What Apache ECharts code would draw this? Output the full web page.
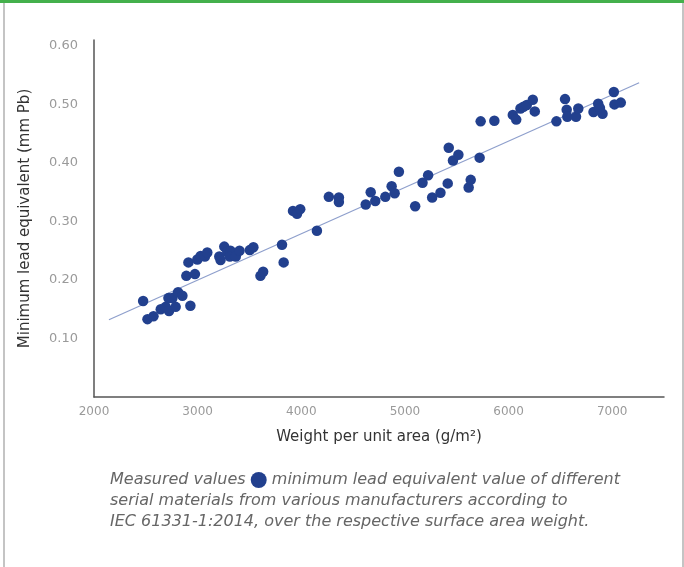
<!DOCTYPE html>
<html><head><meta charset="utf-8">
<script src="https://cdn.jsdelivr.net/npm/echarts@6/dist/echarts.min.js"></script>
<style>
html,body{margin:0;padding:0;background:#fff;}
#wrap{position:absolute;left:0;top:0;width:684px;height:567px;overflow:hidden;}
#topbar{position:absolute;left:0;top:0;width:684px;height:3px;background:#44b04c;}
#lb{position:absolute;left:3px;top:0;width:2px;height:567px;background:#c4c4c4;}
#rb{position:absolute;left:682px;top:0;width:2px;height:567px;background:#c4c4c4;}
#chart{position:absolute;left:0;top:0;width:684px;height:567px;}
</style></head>
<body><div id="wrap"><div id="chart"></div><div id="lb"></div><div id="rb"></div><div id="topbar"></div></div>
<script>
const weights = [2474,2516,2574,2644,2692,2724,2718,2757,2788,2811,2853,2891,2911,2930,2974,2997,3029,3070,3093,3209,3221,3257,3286,3317,3311,3368,3404,3503,3538,3606,3632,3814,3830,3920,3959,3990,4151,4266,4363,4363,4622,4670,4714,4811,4872,4901,4942,5099,5170,5224,5263,5343,5413,5423,5464,5516,5615,5635,5721,5731,5863,6041,6074,6115,6144,6176,6234,6253,6462,6545,6561,6567,6651,6673,6820,6865,6882,6907,7016,7022,7083];
const leadEq = [0.164,0.133,0.138,0.150,0.154,0.147,0.169,0.169,0.154,0.179,0.173,0.207,0.230,0.156,0.210,0.235,0.241,0.240,0.247,0.240,0.234,0.257,0.248,0.250,0.240,0.240,0.250,0.251,0.256,0.207,0.214,0.260,0.230,0.318,0.313,0.321,0.284,0.342,0.341,0.333,0.329,0.350,0.335,0.342,0.360,0.348,0.385,0.326,0.366,0.379,0.341,0.349,0.365,0.426,0.404,0.414,0.358,0.371,0.409,0.471,0.472,0.482,0.474,0.493,0.496,0.499,0.508,0.488,0.471,0.509,0.491,0.479,0.479,0.493,0.487,0.501,0.494,0.484,0.521,0.500,0.503];
const trendX = [2144, 7260];
const trendY = [0.132, 0.537];
const yTicks = ['0.10','0.20','0.30','0.40','0.50','0.60'];
const xTicks = ['2000','3000','4000','5000','6000','7000'];

const font = '"DejaVu Sans", Verdana, sans-serif';
const chart = echarts.init(document.getElementById('chart'));
const pts = weights.map((w,i)=>[w, leadEq[i]]);
const trend = trendX.map((x,i)=>[x, trendY[i]]);
chart.setOption({
  animation:false,
  backgroundColor:'#fff',
  grid:{left:94, top:40, right:20, bottom:170, containLabel:false},
  xAxis:{
    type:'value', min:2000, max:7500, interval:1000,
    axisLine:{show:true, lineStyle:{color:'#555', width:1.5}},
    axisTick:{show:false}, splitLine:{show:false},
    axisLabel:{color:'#9a9a9a', fontSize:12, fontFamily:font, margin:9,
      formatter:v=>{const s=String(Math.round(v)); return xTicks.includes(s)?s:'';}},
    name:'Weight per unit area (g/m²)', nameLocation:'middle', nameGap:33,
    nameTextStyle:{color:'#333', fontSize:15, fontFamily:font}
  },
  yAxis:{
    type:'value', min:0, max:0.61, interval:0.1,
    axisLine:{show:true, lineStyle:{color:'#555', width:1.5}},
    axisTick:{show:false}, splitLine:{show:false},
    axisLabel:{color:'#9a9a9a', fontSize:13, fontFamily:font, margin:16,
      formatter:v=>{const s=v.toFixed(2); return yTicks.includes(s)?s:'';}},
    name:'Minimum lead equivalent (mm Pb)', nameLocation:'middle', nameGap:61, nameRotate:90,
    nameTextStyle:{color:'#333', fontSize:15, fontFamily:font}
  },
  series:[
    {type:'line', data:trend, symbol:'none', lineStyle:{color:'#8e9fcc', width:1.2}, z:1},
    {type:'scatter', data:pts, symbolSize:10.5, itemStyle:{color:'#22408e', opacity:1}, z:2}
  ],
  graphic:[{
    type:'text', left:110, top:472,
    style:{
      text:'{t|Measured values }{c|}{t| minimum lead equivalent value of different}\n{t|serial materials from various manufacturers according to}\n{t|IEC 61331-1:2014, over the respective surface area weight.}',
      rich:{
        t:{fontFamily:font, fontStyle:'italic', fontSize:16, fill:'#666', lineHeight:21},
        c:{width:16, height:16, backgroundColor:'#22408e', borderRadius:8, lineHeight:21}
      }
    }
  }]
});
</script></body></html>
